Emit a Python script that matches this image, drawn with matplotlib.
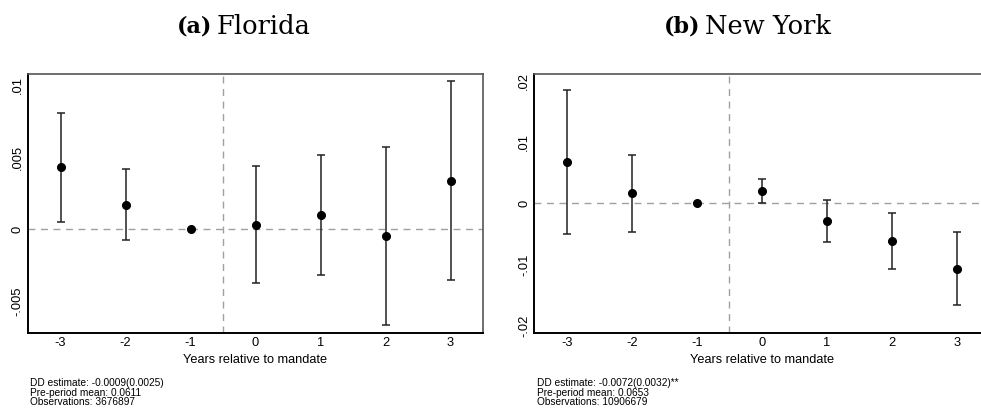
import numpy as np
import matplotlib
matplotlib.use("Agg")
import matplotlib.pyplot as plt

# event time
years = [-3, -2, -1, 0, 1, 2, 3]

# Florida
fl_coef = [0.00429, 0.0017, 0.0, 0.00032, 0.00097, -0.00046, 0.00336]
fl_hi   = [0.00806, 0.00419, 0.0, 0.00438, 0.00514, 0.00571, 0.01023]
fl_lo   = [0.000505, -0.00076, 0.0, -0.00369, -0.00316, -0.00664, -0.00351]
fl_ticks = [-0.005, 0, 0.005, 0.01]
fl_ticklabels = ["-.005", "0", ".005", ".01"]
fl_note = ["DD estimate: -0.0009(0.0025)", "Pre-period mean: 0.0611", "Observations: 3676897"]

# New York
ny_coef = [0.0068, 0.00167, 0.0, 0.00205, -0.00282, -0.00615, -0.01069]
ny_hi   = [0.0186, 0.0080, 0.0, 0.00397, 0.00057, -0.00156, -0.00462]
ny_lo   = [-0.00505, -0.00472, 0.0, 0.00013, -0.00626, -0.01074, -0.01664]
ny_ticks = [-0.02, -0.01, 0, 0.01, 0.02]
ny_ticklabels = ["-.02", "-.01", "0", ".01", ".02"]
ny_note = ["DD estimate: -0.0072(0.0032)**", "Pre-period mean: 0.0653", "Observations: 10906679"]

W, H = 981, 413
fig = plt.figure(figsize=(W / 100, H / 100), dpi=100)
sans = "Liberation Sans"
serif = "DejaVu Serif"


def panel(left, coef, lo, hi, ylim, ticks, ticklabels, note, split_x, tag, name):
    ax = fig.add_axes([left / W, (H - 332.7) / H, 455 / W, (332.7 - 74) / H])
    coef = np.array(coef); lo = np.array(lo); hi = np.array(hi)
    ax.axhline(0, color="#a0a0a0", lw=1.0, ls=(0, (5, 4)), zorder=1)
    ax.axvline(-0.5, color="#a0a0a0", lw=1.0, ls=(0, (5, 4)), zorder=1)
    ax.errorbar(years, coef, yerr=[coef - lo, hi - coef], fmt="o", color="black",
                ecolor="#222222", elinewidth=1.1, capsize=3, capthick=1.1,
                markersize=5.5, zorder=3)
    ax.set_xlim(-3.5, 3.5)
    ax.set_ylim(*ylim)
    ax.set_xticks(years)
    ax.set_xticklabels([str(y) for y in years], fontsize=9.3, family=sans)
    ax.set_yticks(ticks)
    ax.set_yticklabels(ticklabels, fontsize=9.3, family=sans, rotation=90, va="center")
    ax.tick_params(length=0, pad=3)
    ax.set_xlabel("Years relative to mandate", fontsize=9.2, family=sans, labelpad=4)
    for s in ["left", "bottom"]:
        ax.spines[s].set_linewidth(1.4)
        ax.spines[s].set_color("black")
    for s in ["top", "right"]:
        ax.spines[s].set_linewidth(1.2)
        ax.spines[s].set_color("#555555")
    for i, line in enumerate(note):
        fig.text((left + 2.5) / W, 1 - (383.3 + i * 9.2) / H, line, fontsize=7.3,
                 family=sans, va="center", ha="left")
    # title with bold tag
    fig.text((split_x - 2) / W, 1 - 26 / H, "(" + tag + ")", fontsize=16,
             family=serif, weight="bold", ha="right", va="center")
    fig.text((split_x + 3) / W, 1 - 26 / H, name, fontsize=18.5,
             family=serif, ha="left", va="center")
    return ax


panel(28, fl_coef, fl_lo, fl_hi, (-0.00715, 0.01074), fl_ticks, fl_ticklabels,
      fl_note, 214, "a", "Florida")
panel(534.3, ny_coef, ny_lo, ny_hi, (-0.0212, 0.0212), ny_ticks, ny_ticklabels,
      ny_note, 702, "b", "New York")

fig.savefig("out.png", dpi=100)
